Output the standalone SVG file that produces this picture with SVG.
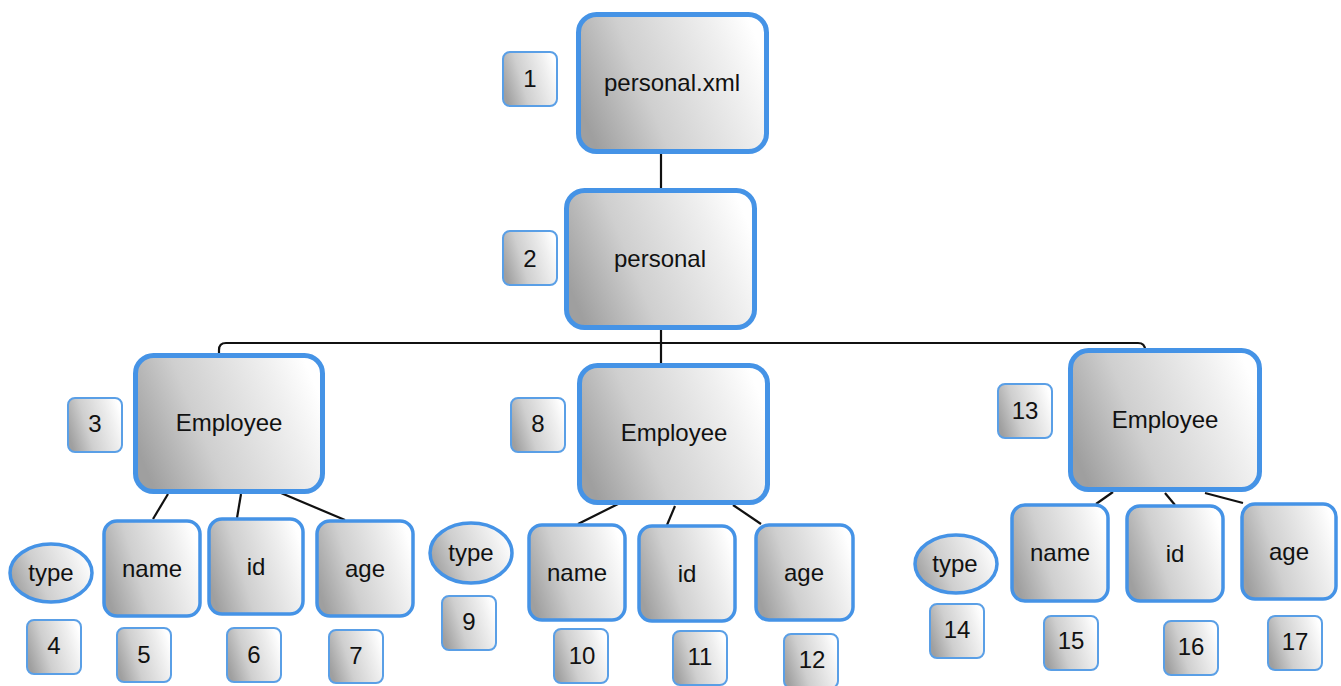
<svg xmlns="http://www.w3.org/2000/svg" width="1341" height="686" viewBox="0 0 1341 686">
<defs>
<linearGradient id="g" x1="0" y1="0.65" x2="1" y2="0.35">
<stop offset="0" stop-color="#9f9f9f"/>
<stop offset="0.35" stop-color="#cfcfcf"/>
<stop offset="0.8" stop-color="#efefef"/>
<stop offset="1" stop-color="#ffffff"/>
</linearGradient>
</defs>
<style>
.big{fill:url(#g);stroke:#4593e6;stroke-width:5}
.mid{fill:url(#g);stroke:#4593e6;stroke-width:3.5}
.sm{fill:url(#g);stroke:#5a9fe6;stroke-width:2}
text{font-family:"Liberation Sans",Arial,sans-serif;font-size:24px;fill:#111;text-anchor:middle}
.c{fill:none;stroke:#111;stroke-width:2.2}
</style>
<rect width="1341" height="686" fill="#ffffff"/>
<g id="connectors">
<line class="c" x1="661" y1="154" x2="661" y2="189"/>
<line class="c" x1="661" y1="330" x2="661" y2="364"/>
<path class="c" d="M219,354 V350 Q219,343 226,343 H1138 Q1145,343 1145,350 V351"/>
<line class="c" x1="168" y1="494" x2="153" y2="519"/>
<line class="c" x1="241" y1="494" x2="237" y2="518"/>
<line class="c" x1="281" y1="493" x2="345" y2="520"/>
<line class="c" x1="618" y1="504" x2="578" y2="524"/>
<line class="c" x1="675" y1="506" x2="667" y2="525"/>
<line class="c" x1="733" y1="505" x2="761" y2="524"/>
<line class="c" x1="1113" y1="492" x2="1096" y2="504"/>
<line class="c" x1="1165" y1="493" x2="1175" y2="505"/>
<line class="c" x1="1205" y1="493" x2="1243" y2="503"/>
</g>
<g id="n-personal-xml"><rect class="big" x="578.5" y="14.5" width="188" height="137" rx="18"/><text x="672" y="91">personal.xml</text></g>
<g id="n-personal"><rect class="big" x="566.5" y="190.5" width="188" height="137" rx="18"/><text x="660" y="267">personal</text></g>
<g id="n-emp1"><rect class="big" x="135.5" y="355.5" width="187" height="136" rx="18"/><text x="229" y="431">Employee</text></g>
<g id="n-emp2"><rect class="big" x="579.5" y="365.5" width="188" height="137" rx="18"/><text x="674" y="441">Employee</text></g>
<g id="n-emp3"><rect class="big" x="1070.5" y="350.5" width="189" height="139" rx="18"/><text x="1165" y="428">Employee</text></g>
<g id="n-type1"><ellipse class="mid" cx="51" cy="573" rx="41" ry="29"/><text x="51" y="581">type</text></g>
<g id="n-name1"><rect class="mid" x="104" y="521" width="96" height="95" rx="13"/><text x="152" y="577">name</text></g>
<g id="n-id1"><rect class="mid" x="209" y="519" width="94" height="95" rx="13"/><text x="256" y="575">id</text></g>
<g id="n-age1"><rect class="mid" x="317" y="521" width="96" height="95" rx="13"/><text x="365" y="577">age</text></g>
<g id="n-type2"><ellipse class="mid" cx="471" cy="553" rx="41" ry="30"/><text x="471" y="561">type</text></g>
<g id="n-name2"><rect class="mid" x="529" y="525" width="96" height="95" rx="13"/><text x="577" y="581">name</text></g>
<g id="n-id2"><rect class="mid" x="639" y="526" width="96" height="95" rx="13"/><text x="687" y="582">id</text></g>
<g id="n-age2"><rect class="mid" x="756" y="525" width="97" height="95" rx="13"/><text x="804" y="581">age</text></g>
<g id="n-type3"><ellipse class="mid" cx="956" cy="564" rx="41" ry="29"/><text x="955" y="572">type</text></g>
<g id="n-name3"><rect class="mid" x="1012" y="505" width="96" height="96" rx="13"/><text x="1060" y="561">name</text></g>
<g id="n-id3"><rect class="mid" x="1127" y="506" width="96" height="95" rx="13"/><text x="1175" y="562">id</text></g>
<g id="n-age3"><rect class="mid" x="1242" y="504" width="94" height="95" rx="13"/><text x="1289" y="560">age</text></g>
<g id="l1"><rect class="sm" x="503" y="52" width="54" height="54" rx="7"/><text x="530" y="87">1</text></g>
<g id="l2"><rect class="sm" x="503" y="231" width="54" height="54" rx="7"/><text x="530" y="267">2</text></g>
<g id="l3"><rect class="sm" x="68" y="398" width="54" height="54" rx="7"/><text x="95" y="432">3</text></g>
<g id="l4"><rect class="sm" x="27" y="620" width="54" height="54" rx="7"/><text x="54" y="654">4</text></g>
<g id="l5"><rect class="sm" x="117" y="628" width="54" height="54" rx="7"/><text x="144" y="663">5</text></g>
<g id="l6"><rect class="sm" x="227" y="628" width="54" height="54" rx="7"/><text x="254" y="663">6</text></g>
<g id="l7"><rect class="sm" x="329" y="630" width="54" height="53" rx="7"/><text x="356" y="664">7</text></g>
<g id="l8"><rect class="sm" x="511" y="398" width="54" height="54" rx="7"/><text x="538" y="432">8</text></g>
<g id="l9"><rect class="sm" x="442" y="596" width="54" height="54" rx="7"/><text x="469" y="630">9</text></g>
<g id="l10"><rect class="sm" x="554" y="629" width="54" height="54" rx="7"/><text x="582" y="664">10</text></g>
<g id="l11"><rect class="sm" x="673" y="631" width="54" height="54" rx="7"/><text x="700" y="665">11</text></g>
<g id="l12"><rect class="sm" x="784" y="634" width="54" height="54" rx="7"/><text x="812" y="668">12</text></g>
<g id="l13"><rect class="sm" x="998" y="384" width="54" height="54" rx="7"/><text x="1025" y="419">13</text></g>
<g id="l14"><rect class="sm" x="930" y="604" width="54" height="54" rx="7"/><text x="957" y="638">14</text></g>
<g id="l15"><rect class="sm" x="1044" y="616" width="54" height="54" rx="7"/><text x="1071" y="649">15</text></g>
<g id="l16"><rect class="sm" x="1164" y="621" width="54" height="54" rx="7"/><text x="1191" y="655">16</text></g>
<g id="l17"><rect class="sm" x="1268" y="616" width="54" height="54" rx="7"/><text x="1295" y="650">17</text></g>
</svg>
